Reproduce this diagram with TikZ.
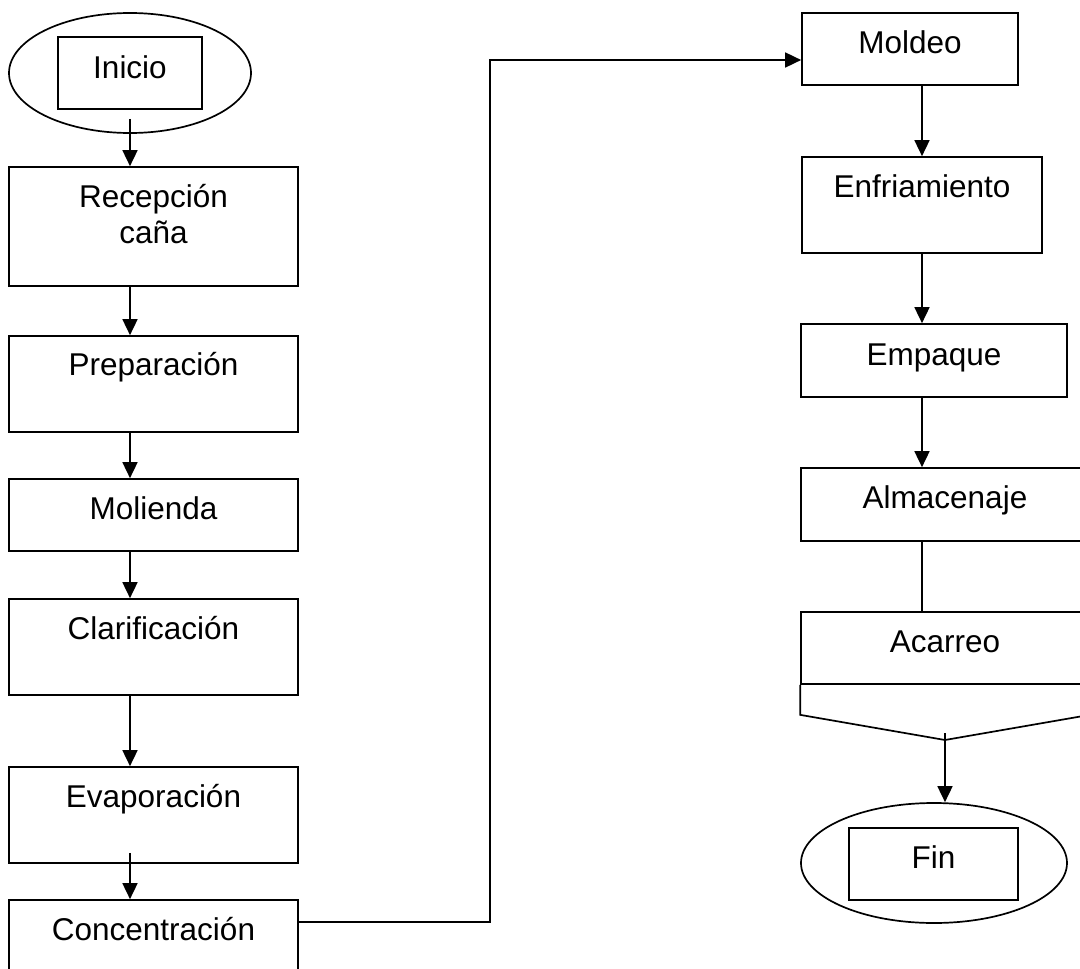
\documentclass[tikz,border=0pt]{standalone}
\usepackage{fontspec}
\setmainfont{Liberation Sans}
\usetikzlibrary{shapes.geometric,arrows.meta}
\tikzset{
  box/.style={draw, line width=1.7pt, inner sep=0pt},
  oval/.style={draw, ellipse, line width=1.7pt, inner sep=0pt},
  txt/.style={anchor=base, inner sep=0pt, font=\fontsize{31.5}{37}\selectfont},
  arr/.style={line width=1.7pt, -{Triangle[length=16pt,width=15pt]}},
  link/.style={line width=1.7pt}
}
\begin{document}
\begin{tikzpicture}[x=1pt,y=-1pt]
  \useasboundingbox (0,0) rectangle (1080,969);
  \clip (0,0) rectangle (1080,969);
  % Start
  \node[oval, minimum width=242pt, minimum height=120pt] (inicio) at (130,73) {};
  \node[box, minimum width=144pt, minimum height=72pt] (iniciobox) at (130,73) {};
  \node[txt] (iniciot) at (130,78) {Inicio};
  % Left column
  \node[box, minimum width=289pt, minimum height=119pt] (recep) at (153.5,226.5) {};
  \node[txt] (recept) at (153.5,207) {Recepción};
  \node[txt] (recept2) at (153.5,243) {caña};
  \node[box, minimum width=289pt, minimum height=96pt] (prep) at (153.5,384) {};
  \node[txt] (prept) at (153.5,375) {Preparación};
  \node[box, minimum width=289pt, minimum height=72pt] (mol) at (153.5,515) {};
  \node[txt] (molt) at (153.5,519) {Molienda};
  \node[box, minimum width=289pt, minimum height=96pt] (clar) at (153.5,647) {};
  \node[txt] (clart) at (153.5,639) {Clarificación};
  \node[box, minimum width=289pt, minimum height=96pt] (evap) at (153.5,815) {};
  \node[txt] (evapt) at (153.5,807) {Evaporación};
  \node[box, minimum width=289pt, minimum height=96pt] (conc) at (153.5,948) {};
  \node[txt] (conct) at (153.5,940) {Concentración};
  % Right column
  \node[box, minimum width=216pt, minimum height=72pt] (moldeo) at (910,49) {};
  \node[txt] (moldeot) at (910,53) {Moldeo};
  \node[box, minimum width=240pt, minimum height=96pt] (enfr) at (922,205) {};
  \node[txt] (enfrt) at (922,197) {Enfriamiento};
  \node[box, minimum width=266pt, minimum height=73pt] (emp) at (934,360.5) {};
  \node[txt] (empt) at (934,365) {Empaque};
  \node[box, minimum width=288pt, minimum height=73pt] (alm) at (945,504.5) {};
  \node[txt] (almt) at (945,508) {Almacenaje};
  \node[box, minimum width=288pt, minimum height=72pt] (acar) at (945,648) {};
  \node[txt] (acart) at (945,652) {Acarreo};
  \coordinate (acarpt) at (945,740);
  \draw[link] (acar.south west) -- ++(0,30) -- (acarpt) -- ([yshift=-30pt]acar.south east) -- (acar.south east);
  % End
  \node[oval, minimum width=266pt, minimum height=120pt] (fin) at (934,863) {};
  \node[box, minimum width=169pt, minimum height=72pt] (finbox) at (933.5,864) {};
  \node[txt] (fint) at (933.5,868) {Fin};
  % Arrows left
  \draw[arr] ([yshift=15pt]inicio.south) -- (recep.north -| inicio.south);
  \foreach \a/\b in {recep/prep, prep/mol, mol/clar, clar/evap}
    \draw[arr] (\a.south -| inicio.south) -- (\b.north -| inicio.south);
  \draw[arr] ([yshift=11pt]evap.south -| inicio.south) -- (conc.north -| inicio.south);
  % Link to second column
  \coordinate (bend) at (490,60);
  \draw[arr] ([yshift=-23pt]conc.north east) -| (bend) -- (bend -| moldeo.west);
  % Arrows right
  \draw[arr] (moldeo.south -| enfr) -- (enfr.north);
  \draw[arr] (enfr.south) -- (emp.north -| enfr);
  \draw[arr] (emp.south -| enfr) -- (alm.north -| enfr);
  \draw[link] (alm.south -| enfr) -- (acar.north -| enfr);
  \draw[arr] ([yshift=7pt]acarpt) -- (acarpt |- fin.north);
\end{tikzpicture}
\end{document}
